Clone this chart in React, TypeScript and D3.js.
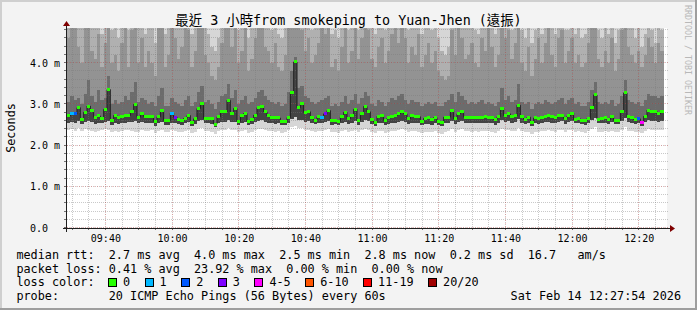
import React from 'react';
import * as d3 from 'd3';

// ---------------- data ----------------
const TITLE = '最近 3 小時from smokeping to Yuan-Jhen (遠振)';
const Y_LABEL = 'Seconds';
const WATERMARK = 'RRDTOOL / TOBI OETIKER';
const START = new Date(2026, 1, 14, 9, 28, 20);
const END = new Date(2026, 1, 14, 12, 28, 20);
const STEP_SECONDS = 60;
const Y_MAX = 4.854; // ms
const Y_TICKS = [0, 1, 2, 3, 4];
const Y_TICK_LABELS = ['0.0', '1.0 m', '2.0 m', '3.0 m', '4.0 m'];

// median rtt per 60 s step (ms)
const MEDIAN = [
  2.72, 2.79, 2.77, 2.92, 2.64, 2.81, 2.96, 2.86, 2.69, 2.72, 2.66, 2.88, 3.36, 2.61, 2.73, 2.69, 2.70, 2.73, 2.73, 2.82, 3.00, 2.69, 2.77, 2.71, 2.70, 2.70, 2.59, 2.70, 2.84, 2.61,
  2.61, 2.79, 2.69, 2.64, 2.60, 2.66, 2.73, 2.57, 2.65, 2.90, 3.03, 2.66, 2.66, 2.65, 2.52, 2.70, 2.83, 2.82, 3.10, 2.79, 2.90, 2.59, 2.72, 2.78, 2.59, 2.64, 2.74, 2.92, 2.96, 2.82,
  2.72, 2.68, 2.67, 2.67, 2.59, 2.59, 2.68, 3.29, 4.03, 2.92, 3.02, 2.80, 2.82, 2.69, 2.62, 2.70, 2.69, 2.77, 2.85, 2.61, 2.61, 2.59, 2.70, 2.81, 2.65, 2.73, 2.88, 2.61, 2.78, 2.95,
  2.82, 2.64, 2.57, 2.71, 2.72, 2.61, 2.67, 2.71, 2.72, 2.77, 2.82, 2.77, 2.65, 2.72, 2.70, 2.70, 2.59, 2.66, 2.67, 2.63, 2.68, 2.59, 2.57, 2.69, 2.69, 2.85, 2.65, 2.77, 2.82, 2.69,
  2.68, 2.67, 2.68, 2.67, 2.69, 2.70, 2.68, 2.68, 2.63, 2.70, 2.91, 2.73, 2.77, 2.70, 2.72, 2.98, 2.70, 2.64, 2.69, 2.55, 2.67, 2.66, 2.68, 2.71, 2.72, 2.70, 2.68, 2.72, 2.73, 2.66,
  2.72, 2.79, 2.63, 2.65, 2.61, 2.60, 2.66, 2.92, 3.23, 2.64, 2.65, 2.67, 2.63, 2.70, 2.61, 2.61, 2.82, 3.28, 2.70, 2.67, 2.63, 2.65, 2.57, 2.71, 2.86, 2.83, 2.83, 2.77, 2.82,
];

// steps with lost pings, and how many of the 20 were lost
const LOSS_STEPS = [1, 2, 31, 32, 76, 77, 171, 172];
const LOSS_PINGS = [1, 2, 1, 3, 1, 3, 2, 4];

// smoke: lowest ping, lower edge of the dense part, tops of dark / mid / light layers (ms)
const SMOKE_MIN = [
  2.38, 2.40, 2.36, 2.42, 2.35, 2.40, 2.38, 2.36, 2.33, 2.35, 2.37, 2.40, 2.38, 2.34, 2.36, 2.32, 2.35, 2.37, 2.38, 2.36, 2.34, 2.33, 2.37, 2.35, 2.36, 2.38, 2.30, 2.35, 2.37, 2.33,
  2.33, 2.38, 2.36, 2.34, 2.32, 2.35, 2.37, 2.30, 2.34, 2.40, 2.42, 2.35, 2.36, 2.34, 2.28, 2.36, 2.38, 2.39, 2.42, 2.37, 2.38, 2.32, 2.36, 2.38, 2.31, 2.34, 2.37, 2.40, 2.41, 2.38,
  2.36, 2.35, 2.34, 2.35, 2.31, 2.32, 2.37, 2.45, 2.48, 2.42, 2.43, 2.38, 2.39, 2.35, 2.33, 2.36, 2.35, 2.38, 2.40, 2.32, 2.33, 2.31, 2.36, 2.38, 2.34, 2.36, 2.39, 2.32, 2.37, 2.40,
  2.38, 2.33, 2.30, 2.35, 2.36, 2.31, 2.34, 2.35, 2.36, 2.38, 2.40, 2.37, 2.33, 2.36, 2.35, 2.34, 2.30, 2.33, 2.34, 2.32, 2.35, 2.30, 2.29, 2.34, 2.35, 2.40, 2.33, 2.38, 2.40, 2.35,
  2.35, 2.34, 2.36, 2.34, 2.35, 2.36, 2.35, 2.34, 2.31, 2.36, 2.40, 2.37, 2.38, 2.35, 2.36, 2.42, 2.35, 2.32, 2.34, 2.29, 2.34, 2.33, 2.35, 2.36, 2.37, 2.35, 2.34, 2.37, 2.38, 2.33,
  2.37, 2.38, 2.34, 2.35, 2.32, 2.31, 2.35, 2.40, 2.45, 2.34, 2.33, 2.35, 2.33, 2.36, 2.32, 2.33, 2.38, 2.44, 2.36, 2.35, 2.33, 2.34, 2.30, 2.36, 2.40, 2.39, 2.38, 2.37, 2.38,
];
const SMOKE_LOW = [
  2.55, 2.58, 2.56, 2.60, 2.52, 2.57, 2.60, 2.58, 2.53, 2.55, 2.54, 2.58, 2.60, 2.50, 2.55, 2.53, 2.55, 2.56, 2.57, 2.58, 2.60, 2.55, 2.57, 2.55, 2.55, 2.56, 2.48, 2.55, 2.58, 2.50,
  2.50, 2.56, 2.54, 2.52, 2.50, 2.54, 2.57, 2.48, 2.53, 2.60, 2.62, 2.54, 2.54, 2.53, 2.45, 2.55, 2.58, 2.58, 2.62, 2.57, 2.58, 2.50, 2.56, 2.57, 2.50, 2.53, 2.57, 2.60, 2.61, 2.58,
  2.55, 2.54, 2.53, 2.54, 2.49, 2.50, 2.56, 2.65, 2.70, 2.62, 2.63, 2.58, 2.59, 2.55, 2.52, 2.55, 2.55, 2.58, 2.60, 2.50, 2.52, 2.49, 2.55, 2.58, 2.53, 2.56, 2.60, 2.51, 2.57, 2.61,
  2.60, 2.52, 2.47, 2.55, 2.56, 2.50, 2.53, 2.55, 2.56, 2.58, 2.60, 2.57, 2.52, 2.56, 2.55, 2.55, 2.49, 2.52, 2.53, 2.51, 2.54, 2.49, 2.47, 2.54, 2.55, 2.60, 2.52, 2.58, 2.60, 2.55,
  2.55, 2.54, 2.55, 2.54, 2.56, 2.56, 2.55, 2.55, 2.51, 2.56, 2.62, 2.58, 2.60, 2.56, 2.57, 2.64, 2.56, 2.52, 2.55, 2.47, 2.54, 2.53, 2.55, 2.57, 2.58, 2.56, 2.55, 2.58, 2.59, 2.53,
  2.58, 2.60, 2.55, 2.55, 2.52, 2.51, 2.56, 2.62, 2.66, 2.55, 2.54, 2.56, 2.53, 2.57, 2.52, 2.53, 2.60, 2.66, 2.57, 2.55, 2.53, 2.55, 2.48, 2.57, 2.62, 2.60, 2.59, 2.58, 2.60,
];
const SMOKE_DARK = [
  3.05, 3.20, 3.10, 3.15, 3.00, 3.25, 3.60, 3.20, 3.05, 3.35, 3.10, 3.15, 3.70, 3.00, 3.10, 3.00, 3.05, 3.20, 3.10, 3.30, 3.55, 3.05, 3.15, 3.10, 3.00, 3.05, 2.95, 3.20, 3.40, 2.95,
  2.95, 3.15, 3.05, 3.00, 2.95, 3.10, 3.20, 2.95, 3.05, 3.30, 3.45, 3.05, 3.10, 3.00, 2.90, 3.05, 3.20, 3.25, 3.50, 3.15, 3.35, 3.00, 3.10, 3.20, 3.00, 3.05, 3.15, 3.30, 3.35, 3.20,
  3.10, 3.05, 3.00, 3.05, 2.95, 3.00, 3.30, 3.80, 4.15, 3.40, 3.45, 3.20, 3.15, 3.05, 3.00, 3.05, 3.10, 3.15, 3.20, 2.95, 3.00, 2.95, 3.05, 3.20, 3.00, 3.10, 3.25, 3.00, 3.15, 3.30,
  3.20, 3.00, 2.95, 3.10, 3.05, 2.95, 3.05, 3.15, 3.10, 3.20, 3.25, 3.10, 3.00, 3.10, 3.05, 3.05, 2.95, 3.00, 3.05, 3.00, 3.05, 2.95, 2.95, 3.05, 3.10, 3.25, 3.05, 3.30, 3.20, 3.10,
  3.00, 3.05, 3.00, 3.05, 3.10, 3.00, 3.05, 3.00, 2.95, 3.05, 3.40, 3.10, 3.20, 3.05, 3.10, 3.50, 3.05, 3.00, 3.05, 2.90, 3.00, 3.05, 3.00, 3.10, 3.05, 3.00, 3.05, 3.10, 3.15, 3.00,
  3.10, 3.15, 3.00, 3.05, 2.95, 2.95, 3.05, 3.35, 3.55, 3.05, 3.00, 3.05, 3.00, 3.10, 2.95, 3.00, 3.20, 3.60, 3.10, 3.05, 3.00, 3.05, 2.95, 3.10, 3.25, 3.20, 3.20, 3.15, 3.20,
];
const SMOKE_MID = [
  4.6, 5.0, 5.0, 4.4, 4.0, 5.0, 5.0, 4.3, 4.1, 4.7, 3.9, 4.5, 5.0, 4.0, 4.2, 3.8, 4.5, 5.0, 3.9, 4.8, 5.0, 4.0, 4.6, 3.9, 4.3, 4.0, 3.7, 4.9, 5.0, 3.9,
  4.2, 5.0, 4.6, 4.1, 4.4, 5.0, 4.8, 3.9, 4.3, 5.0, 5.0, 4.2, 4.0, 3.7, 3.6, 3.9, 4.5, 5.0, 5.0, 4.4, 5.0, 4.0, 4.3, 4.9, 3.8, 4.1, 4.6, 5.0, 5.0, 4.4,
  4.3, 4.0, 4.5, 3.9, 3.8, 4.2, 5.0, 5.0, 5.0, 5.0, 4.8, 4.3, 4.6, 4.0, 4.2, 4.5, 5.0, 4.7, 4.9, 3.9, 4.1, 3.8, 4.4, 5.0, 4.0, 4.3, 5.0, 4.1, 4.6, 5.0,
  4.8, 4.1, 3.9, 4.4, 4.6, 4.0, 4.3, 4.7, 5.0, 4.5, 5.0, 4.6, 4.0, 4.4, 4.2, 4.7, 3.9, 4.2, 4.5, 4.0, 4.3, 3.8, 3.7, 3.6, 3.7, 4.8, 4.2, 5.0, 4.6, 4.1,
  4.2, 4.5, 4.0, 3.9, 4.6, 4.3, 5.0, 4.4, 3.9, 4.2, 5.0, 4.6, 4.8, 4.1, 4.5, 5.0, 4.0, 3.8, 4.4, 3.7, 4.1, 4.6, 4.0, 4.5, 4.9, 4.2, 3.9, 4.6, 4.8, 4.0,
  4.3, 4.6, 4.0, 4.2, 3.9, 4.0, 4.5, 5.0, 5.0, 4.1, 3.9, 4.3, 4.0, 4.6, 3.8, 4.1, 4.8, 5.0, 4.4, 4.2, 4.0, 4.3, 3.9, 4.2, 4.6, 4.4, 4.0, 4.5, 4.3,
];
const SMOKE_HIGH = [
  5.0, 5.2, 5.2, 5.0, 4.9, 5.2, 5.3, 5.0, 4.9, 5.2, 4.7, 5.1, 5.3, 4.8, 5.0, 4.6, 5.1, 5.2, 4.8, 5.2, 5.3, 4.9, 5.1, 4.7, 5.0, 4.9, 4.5, 5.2, 5.3, 4.7,
  4.9, 5.2, 5.1, 4.9, 5.0, 5.2, 5.1, 4.7, 5.0, 5.2, 5.3, 4.9, 4.7, 4.4, 4.3, 4.6, 5.0, 5.2, 5.3, 5.0, 5.2, 4.8, 5.0, 5.1, 4.6, 4.9, 5.1, 5.2, 5.3, 5.0,
  5.0, 4.8, 5.1, 4.7, 4.6, 4.9, 5.2, 5.3, 5.3, 5.3, 5.2, 5.0, 5.1, 4.8, 4.9, 5.0, 5.2, 5.1, 5.2, 4.7, 4.8, 4.6, 5.0, 5.2, 4.8, 5.0, 5.2, 4.8, 5.1, 5.2,
  5.2, 4.9, 4.7, 5.0, 5.1, 4.8, 5.0, 5.1, 5.2, 5.0, 5.2, 5.1, 4.8, 5.0, 4.9, 5.1, 4.7, 4.9, 5.0, 4.8, 5.0, 4.6, 4.3, 4.2, 4.4, 5.1, 4.9, 5.2, 5.1, 4.9,
  4.9, 5.0, 4.8, 4.7, 5.1, 5.0, 5.2, 5.0, 4.7, 4.9, 5.2, 5.1, 5.2, 4.8, 5.0, 5.3, 4.8, 4.6, 5.0, 4.5, 4.8, 5.1, 4.7, 5.0, 5.2, 4.9, 4.7, 5.1, 5.2, 4.8,
  4.8, 5.0, 4.7, 4.9, 4.6, 4.7, 5.0, 5.2, 5.3, 4.8, 4.6, 4.9, 4.7, 5.1, 4.5, 4.8, 5.1, 5.3, 5.0, 4.9, 4.6, 4.9, 4.4, 4.7, 5.0, 4.8, 4.5, 4.9, 4.8,
];

// loss colour legend
const LOSS_LABELS = ['0', '1', '2', '3', '4-5', '6-10', '11-19', '20/20'];
const LOSS_BIN_MAX = [0, 1, 2, 3, 5, 10, 19, 20];
const LOSS_COLORS = ['#26ff00', '#00b8ff', '#0059ff', '#7e00ff', '#ff00ff', '#ff5500', '#ff0000', '#a00000'];

// statistics
const RTT_VALUES = [2.7, 4.0, 2.5, 2.8, 0.2];
const RTT_NAMES = ['avg', 'max', 'min', 'now', 'sd'];
const AM_PER_S = 16.7;
const LOSS_PCT_VALUES = [0.41, 23.92, 0.0, 0.0];
const LOSS_PCT_NAMES = ['avg', 'max', 'min', 'now'];
const PROBE_TEXT = '20 ICMP Echo Pings (56 Bytes) every 60s';
const STAMP = 'Sat Feb 14 12:27:54 2026';

// ---------------- drawing ----------------
const MONO = "'DejaVu Sans Mono', 'Noto Sans CJK TC', monospace";
const nb = (s: string) => s.replace(/ /g, '\u00a0');

export default function App() {
  const W = 697;
  const H = 310;
  const X0 = 67, X1 = 667, YB = 228, YT = 28;
  const x = d3.scaleTime().domain([START, END]).range([X0, X1]);
  const y = d3.scaleLinear().domain([0, Y_MAX]).range([YB, YT]);
  const n = MEDIAN.length;
  const t = (i: number) => new Date(START.getTime() + i * STEP_SECONDS * 1000);

  const lossOf = (i: number) => {
    const k = LOSS_STEPS.indexOf(i);
    return k >= 0 ? LOSS_PINGS[k] : 0;
  };
  const lossColor = (p: number) => {
    const b = LOSS_BIN_MAX.findIndex((m) => p <= m);
    return LOSS_COLORS[b < 0 ? LOSS_COLORS.length - 1 : b];
  };

  const bands = [
    { lo: SMOKE_MIN, hi: null as number[] | null, color: '#d6d6d6' },
    { lo: SMOKE_LOW, hi: SMOKE_HIGH, color: '#b0b0b0' },
    { lo: SMOKE_LOW, hi: SMOKE_MID, color: '#939393' },
    { lo: SMOKE_LOW, hi: SMOKE_DARK, color: '#6c6c6c' },
    { lo: SMOKE_LOW, hi: MEDIAN, color: '#444444' },
  ];

  const minorX = d3.timeMinute.every(5)!.range(START, END);
  const majorX = d3.timeMinute.every(20)!.range(START, END);
  const minorY = d3.range(0, Y_MAX, 0.2);
  const fmt = d3.timeFormat('%H:%M');

  const medLine = d3
    .line<[number, number]>()
    .x((d) => d[0])
    .y((d) => d[1])
    .curve(d3.curveStepAfter);
  const medPts: [number, number][] = MEDIAN.map((m, i) => [x(t(i)), y(m)] as [number, number]);
  medPts.push([x(t(n)), y(MEDIAN[n - 1])]);

  const rttLine =
    'median rtt:  ' +
    RTT_VALUES.map((v, i) => `${v.toFixed(1)} ms ${RTT_NAMES[i]}`).join('  ') +
    `  ${AM_PER_S.toFixed(1)}   am/s`;
  const lossLine =
    'packet loss: ' + LOSS_PCT_VALUES.map((v, i) => `${v.toFixed(2)} % ${LOSS_PCT_NAMES[i]}`).join('  ');

  const CW = 7.1; // legend char width
  const legendItems: { bx: number; lx: number; label: string; color: string }[] = [];
  let cx = 108;
  LOSS_LABELS.forEach((lab, i) => {
    legendItems.push({ bx: cx, lx: cx + 15, label: lab, color: LOSS_COLORS[i] });
    cx = cx + 15 + lab.length * CW + 14.5;
  });

  const gridMinor = 'rgba(120,120,120,0.4)';
  const gridMajor = 'rgba(255,0,0,0.2)';

  return (
    <svg width={W} height={H} style={{ position: 'absolute', left: 0, top: 0 }} fontFamily={MONO}>
      <defs>
        <clipPath id="plot">
          <rect x={X0} y={YT} width={X1 - X0} height={YB - YT} />
        </clipPath>
      </defs>
      <rect x={0} y={0} width={W} height={H} fill="#f3f3f3" />
      <rect x={0} y={0} width={W} height={2} fill="#cfcfcf" />
      <rect x={0} y={0} width={2} height={H} fill="#cfcfcf" />
      <rect x={0} y={H - 2} width={W} height={2} fill="#9e9e9e" />
      <rect x={W - 2} y={0} width={2} height={H} fill="#9e9e9e" />

      <text x={W / 2} y={25} textAnchor="middle" fontSize={13.4} fill="#000">
        {nb(TITLE)}
      </text>
      <text transform={`translate(685,5) rotate(90)`} fontSize={8.3} fill="#b8b8b8">
        {nb(WATERMARK)}
      </text>

      <rect x={X0} y={YT} width={X1 - X0} height={YB - YT} fill="#fff" />

      <g clipPath="url(#plot)">
        {bands.map((b, bi) =>
          MEDIAN.map((_, i) => {
            const top = b.hi ? b.hi[i] : Y_MAX;
            const xa = x(t(i));
            const xb = x(t(i + 1));
            return (
              <rect
                key={`b${bi}-${i}`}
                x={xa}
                width={xb - xa + 0.02}
                y={y(top)}
                height={Math.max(0, y(b.lo[i]) - y(top))}
                fill={b.color}
                shapeRendering="crispEdges"
              />
            );
          })
        )}
      </g>

      {/* grid */}
      <g shapeRendering="crispEdges">
        {minorX.map((d, i) => (
          <line key={`mx${i}`} x1={x(d) - 0.5} x2={x(d) - 0.5} y1={YT} y2={YB} stroke={gridMinor} strokeDasharray="1,1" />
        ))}
        {minorY.map((v, i) => (
          <line key={`my${i}`} x1={X0} x2={X1 + 1} y1={y(v) - 0.5} y2={y(v) - 0.5} stroke={gridMinor} strokeDasharray="1,1" />
        ))}
        {majorX.map((d, i) => (
          <line key={`Mx${i}`} x1={x(d) - 0.5} x2={x(d) - 0.5} y1={YT} y2={YB + 3} stroke={gridMajor} strokeDasharray="1,2" />
        ))}
        {Y_TICKS.map((v, i) => (
          <line key={`My${i}`} x1={X0 - 3} x2={X1 + 1} y1={y(v) - 0.5} y2={y(v) - 0.5} stroke={gridMajor} strokeDasharray="1,2" />
        ))}
        {minorX.map((d, i) => (
          <line key={`tx${i}`} x1={x(d) - 0.5} x2={x(d) - 0.5} y1={YB} y2={YB + 2} stroke="rgba(60,60,60,0.7)" />
        ))}
        {minorY.map((v, i) => (
          <line key={`ty${i}`} x1={X0 - 3} x2={X0} y1={y(v) - 0.5} y2={y(v) - 0.5} stroke="rgba(60,60,60,0.7)" />
        ))}
      </g>

      {/* median */}
      <path d={medLine(medPts) || ''} fill="none" stroke="#202020" strokeWidth={1} />
      {MEDIAN.map((m, i) => {
        const xa = x(t(i));
        const xb = x(t(i + 1));
        return (
          <rect
            key={`m${i}`}
            x={xa}
            width={xb - xa + 0.02}
            y={y(m) - 1.5}
            height={3}
            fill={lossColor(lossOf(i))}
            shapeRendering="crispEdges"
          />
        );
      })}

      {/* axes */}
      <g shapeRendering="crispEdges">
        <line x1={X0 - 4} x2={X1 + 5} y1={YB + 0.5} y2={YB + 0.5} stroke="#1f1f1f" />
        <line x1={X0 - 0.5} x2={X0 - 0.5} y1={YB + 4} y2={YT - 4} stroke="#1f1f1f" />
      </g>
      <path d={`M${X1 + 3},${YB - 3} L${X1 + 8},${YB + 0.5} L${X1 + 3},${YB + 4} Z`} fill="#7f0000" />
      <path d={`M${X0 - 4},${YT - 2} L${X0 - 0.5},${YT - 7} L${X0 + 3},${YT - 2} Z`} fill="#7f0000" />

      {/* tick labels */}
      {Y_TICKS.map((v, i) => (
        <text key={`yl${i}`} x={30} y={y(v) + 3.7} fontSize={10} fill="#000">
          {nb(Y_TICK_LABELS[i])}
        </text>
      ))}
      {majorX.map((d, i) => (
        <text key={`xl${i}`} x={x(d)} y={241.5} fontSize={10} textAnchor="middle" fill="#000">
          {fmt(d)}
        </text>
      ))}
      <text transform="translate(15,128) rotate(-90)" fontSize={11.8} textAnchor="middle" fill="#000">
        {Y_LABEL}
      </text>

      {/* legend */}
      <g fontSize={11.8} fill="#000">
        <text x={16.4} y={259}>{nb(rttLine)}</text>
        <text x={16.4} y={272.7}>{nb(lossLine)}</text>
        <text x={16.4} y={286.4}>{nb('loss color:')}</text>
        {legendItems.map((it, i) => (
          <g key={`lg${i}`}>
            <rect x={it.bx + 0.5} y={278.5} width={8} height={8} fill={it.color} stroke="#000" strokeWidth={1} shapeRendering="crispEdges" />
            <text x={it.lx} y={286.4}>{it.label}</text>
          </g>
        ))}
        <text x={16.4} y={300.1}>{nb('probe:       ' + PROBE_TEXT)}</text>
        <text x={681} y={300.1} textAnchor="end">{nb(STAMP)}</text>
      </g>
    </svg>
  );
}
